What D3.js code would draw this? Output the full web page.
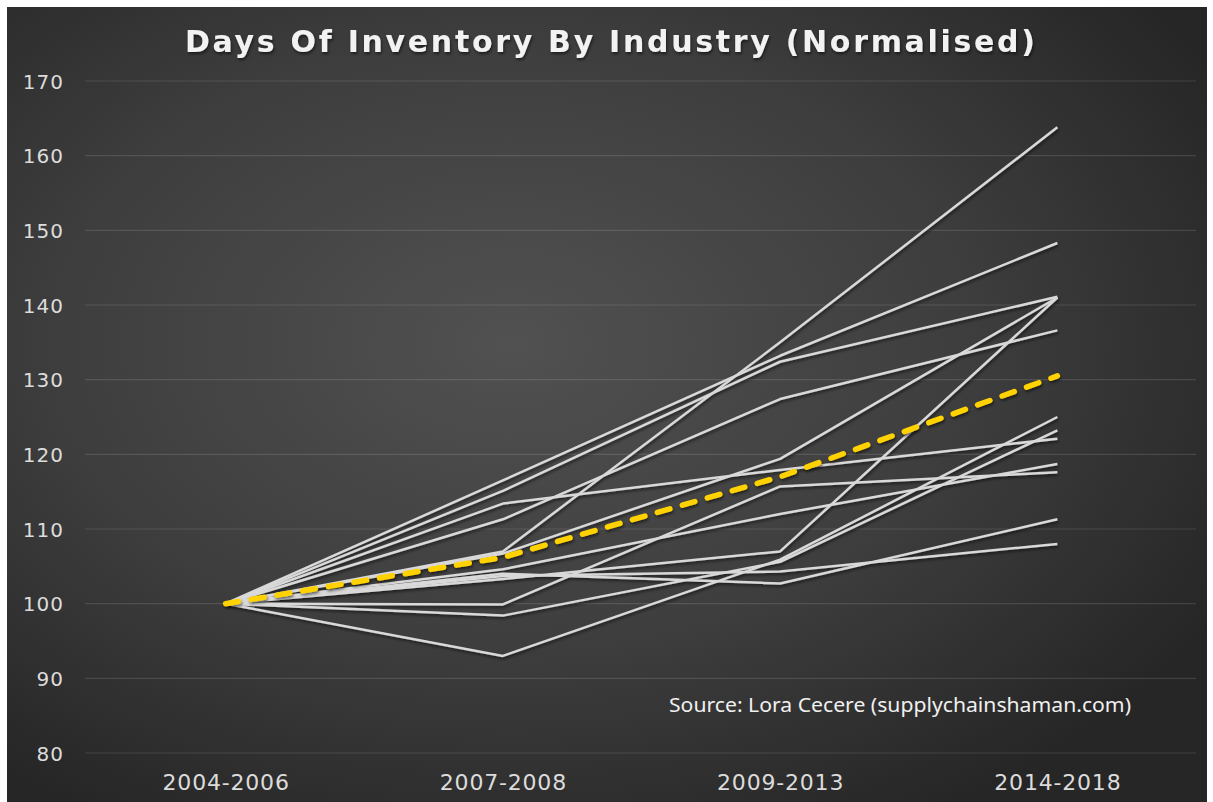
<!DOCTYPE html>
<html>
<head>
<meta charset="utf-8">
<script src="https://cdn.jsdelivr.net/npm/d3@7"></script>
<style>
html,body{margin:0;padding:0;background:#ffffff;}
svg{display:block;}
</style>
</head>
<body>
<svg id="chart" width="1213" height="802"></svg>
<script>
// ---- data ----
const categories = ["2004-2006", "2007-2008", "2009-2013", "2014-2018"];
const yTicks = [80, 90, 100, 110, 120, 130, 140, 150, 160, 170];
const industryA = [100, 116.5, 133.2, 148.3];
const industryB = [100, 115.1, 132.4, 141.1];
const industryC = [100, 113.4, 117.9, 122.1];
const industryD = [100, 111.3, 127.4, 136.6];
const industryE = [100, 107.0, 135.0, 163.8];
const industryF = [100, 99.9, 115.7, 117.6];
const industryG = [100, 98.4, 105.6, 123.2];
const industryH = [100, 93.0, 105.9, 125.0];
const industryI = [100, 106.7, 119.4, 141.0];
const industryJ = [100, 104.0, 102.7, 111.3];
const industryK = [100, 103.7, 104.3, 108.0];
const industryL = [100, 103.3, 107.0, 141.0];
const industryM = [100, 104.6, 112.0, 118.7];
const averageSeries = [100, 106.2, 117.0, 130.5];
const industries = [industryA, industryB, industryC, industryD, industryE, industryF, industryG,
                    industryH, industryI, industryJ, industryK, industryL, industryM];
const titleText = "Days Of Inventory By Industry (Normalised)";
const sourceText = "Source: Lora Cecere (supplychainshaman.com)";

// ---- drawing ----
const svg = d3.select("#chart");
const defs = svg.append("defs");
const grad = defs.append("radialGradient").attr("id", "bg")
  .attr("cx", "42%").attr("cy", "42%").attr("r", "68%");
grad.append("stop").attr("offset", "0%").attr("stop-color", "#515151");
grad.append("stop").attr("offset", "55%").attr("stop-color", "#3e3e3e");
grad.append("stop").attr("offset", "100%").attr("stop-color", "#262626");

const sh = defs.append("filter").attr("id", "shadow")
  .attr("x", "-10%").attr("y", "-10%").attr("width", "120%").attr("height", "120%");
sh.append("feDropShadow").attr("dx", 1).attr("dy", 2).attr("stdDeviation", 1.5)
  .attr("flood-color", "#000").attr("flood-opacity", 0.55);

svg.append("rect").attr("x", 7).attr("y", 7).attr("width", 1200).attr("height", 800)
  .attr("fill", "url(#bg)");

const x = d3.scalePoint().domain(categories).range([87, 1196]).padding(0.5);
const y = d3.scaleLinear().domain([80, 170]).range([753, 81]);

// gridlines
svg.append("g").selectAll("line").data(yTicks).join("line")
  .attr("x1", 85).attr("x2", 1196)
  .attr("y1", d => y(d)).attr("y2", d => y(d))
  .attr("stroke", "#ffffff").attr("stroke-opacity", 0.12).attr("stroke-width", 1.2);

// y axis labels
const yAxis = d3.axisLeft(y).tickValues(yTicks).tickSize(0).tickPadding(0);
const gy = svg.append("g").attr("transform", "translate(64,0)").call(yAxis);
gy.select(".domain").remove();
gy.selectAll("text").attr("fill", "#dcdcdc").attr("font-family", "DejaVu Sans")
  .attr("font-size", 20).attr("letter-spacing", 1).attr("dy", "0.36em");

// x axis labels
const xAxis = d3.axisBottom(x).tickSize(0).tickPadding(0);
const gx = svg.append("g").attr("transform", "translate(0,782)").call(xAxis);
gx.select(".domain").remove();
gx.selectAll("text").attr("fill", "#dcdcdc").attr("font-family", "DejaVu Sans")
  .attr("font-size", 22).attr("letter-spacing", 0.8).attr("dy", "0.36em").attr("y", 0);

const line = d3.line().x((d, i) => x(categories[i])).y(d => y(d));

svg.append("g").attr("filter", "url(#shadow)").selectAll("path").data(industries).join("path")
  .attr("d", line).attr("fill", "none").attr("stroke", "#d9d9d9")
  .attr("stroke-width", 2.5).attr("stroke-linejoin", "round");

svg.append("path").datum(averageSeries).attr("d", line).attr("fill", "none")
  .attr("filter", "url(#shadow)")
  .attr("stroke", "#ffd200").attr("stroke-width", 5.5)
  .attr("stroke-dasharray", "13,13").attr("stroke-linecap", "round");

// title
svg.append("text").attr("x", 610).attr("y", 52).attr("text-anchor", "middle")
  .attr("fill", "#f2f2f2").attr("font-family", "DejaVu Sans").attr("font-weight", "bold")
  .attr("font-size", 30).attr("textLength", 850).attr("lengthAdjust", "spacing")
  .attr("filter", "url(#shadow)")
  .text(titleText);

// source
svg.append("text").attr("x", 669).attr("y", 712)
  .attr("fill", "#f0f0f0").attr("font-family", "Noto Sans").attr("font-size", 19)
  .attr("textLength", 462).attr("lengthAdjust", "spacingAndGlyphs")
  .text(sourceText);
</script>
</body>
</html>
